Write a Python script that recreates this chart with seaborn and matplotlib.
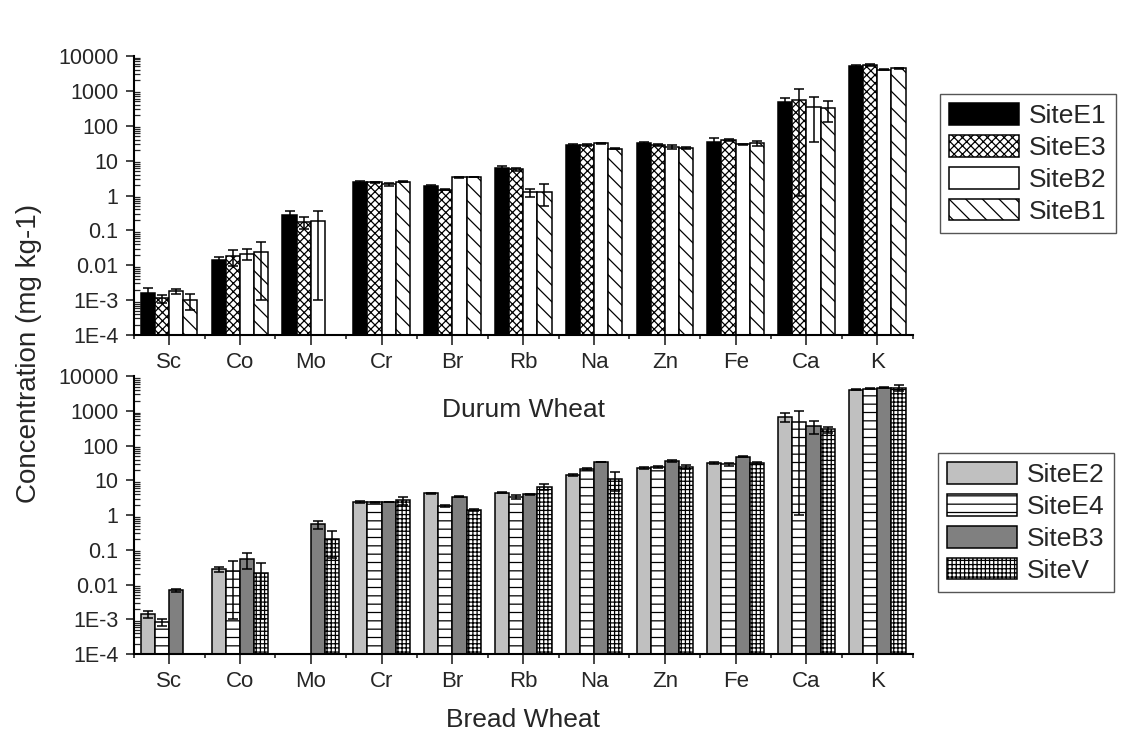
import numpy as np
import pandas as pd
import matplotlib
matplotlib.use("Agg")
import matplotlib.pyplot as plt
import matplotlib.patches as mpatches
from matplotlib.ticker import FixedLocator, FixedFormatter, LogLocator, NullFormatter
import seaborn as sns

# ==========================================
# data (mg kg-1)
# ==========================================
elements = ["Sc", "Co", "Mo", "Cr", "Br", "Rb", "Na", "Zn", "Fe", "Ca", "K"]
nan = np.nan

durum_sites = ["SiteE1", "SiteE3", "SiteB2", "SiteB1"]
durum_E1 = [1.6e-3, 0.0138, 0.275, 2.5, 1.9, 6.3, 28, 31.5, 35, 490, 5200]
durum_E1_err = [0.6e-3, 0.004, 0.09, 0.15, 0.1, 0.8, 2, 2, 9, 130, 500]
durum_E3 = [1.15e-3, 0.0186, 0.178, 2.4, 1.45, 5.6, 28.5, 28, 39, 550, 5500]
durum_E3_err = [0.3e-3, 0.009, 0.07, 0.1, 0.05, 0.6, 1.5, 2, 2, 549, 300]
durum_B2 = [1.78e-3, 0.0214, 0.186, 2.1, 3.3, 1.22, 31.6, 25, 29.5, 355, 4000]
durum_B2_err = [0.3e-3, 0.007, 0.185, 0.25, 0.05, 0.3, 1, 3, 1, 320, 100]
durum_B1 = [1.02e-3, 0.024, nan, 2.5, 3.45, 1.3, 22, 23.4, 31.6, 318, 4500]
durum_B1_err = [0.5e-3, 0.023, nan, 0.05, 0.05, 0.8, 1, 1.5, 6, 190, 150]

bread_sites = ["SiteE2", "SiteE4", "SiteB3", "SiteV"]
bread_E2 = [1.4e-3, 0.0275, nan, 2.4, 4.2, 4.4, 14.8, 23, 32, 680, 4150]
bread_E2_err = [0.3e-3, 0.005, nan, 0.1, 0.1, 0.2, 1, 1.5, 2, 200, 100]
bread_E4 = [0.85e-3, 0.025, nan, 2.35, 1.8, 3.4, 21.4, 24.5, 29, 490, 4400]
bread_E4_err = [0.2e-3, 0.024, nan, 0.05, 0.1, 0.5, 1, 1.5, 3, 489, 100]
bread_B3 = [6.9e-3, 0.054, 0.54, 2.4, 3.4, 4.0, 34, 36, 48, 370, 4700]
bread_B3_err = [0.8e-3, 0.025, 0.15, 0.05, 0.1, 0.1, 1, 1.5, 2, 150, 100]
bread_V = [nan, 0.022, 0.21, 2.7, 1.4, 6.5, 11, 24.5, 31, 295, 4700]
bread_V_err = [nan, 0.021, 0.15, 0.7, 0.1, 1.3, 6, 3, 2, 60, 900]

durum_vals = [durum_E1, durum_E3, durum_B2, durum_B1]
durum_errs = [durum_E1_err, durum_E3_err, durum_B2_err, durum_B1_err]
bread_vals = [bread_E2, bread_E4, bread_B3, bread_V]
bread_errs = [bread_E2_err, bread_E4_err, bread_B3_err, bread_V_err]

# styles
durum_colors = ["black", "white", "white", "white"]
durum_hatches = [None, "xxxx", None, "\\\\"]
bread_colors = ["#c0c0c0", "white", "#808080", "white"]
bread_hatches = [None, "--", None, "++++"]

ytick_vals = [1e-4, 1e-3, 1e-2, 1e-1, 1, 10, 100, 1000, 10000]
ytick_labels = ["1E-4", "1E-3", "0.01", "0.1", "1", "10", "100", "1000", "10000"]

sns.set_style("ticks")
plt.rcParams["font.family"] = ["Liberation Sans", "DejaVu Sans"]
plt.rcParams["hatch.linewidth"] = 0.9


def long_df(sites, vals):
    rows = []
    for s, v in zip(sites, vals):
        for e, x in zip(elements, v):
            rows.append({"element": e, "site": s, "value": x})
    return pd.DataFrame(rows)


def draw_panel(ax, sites, vals, errs, colors, hatches, xlabel, label_y):
    df = long_df(sites, vals)
    sns.barplot(data=df, x="element", y="value", hue="site",
                order=elements, hue_order=sites,
                palette=dict(zip(sites, colors)), edgecolor="black",
                linewidth=1.1, width=0.8, errorbar=None, legend=False,
                saturation=1, ax=ax)
    ax.set_yscale("log")
    for cont, h in zip(ax.containers, hatches):
        for bar in cont:
            if h:
                bar.set_hatch(h)

    # error bars at the dodged positions
    n = len(sites)
    w = 0.8 / n
    for i, (v, e) in enumerate(zip(vals, errs)):
        xpos = np.arange(len(elements)) - 0.4 + w * (i + 0.5)
        ax.errorbar(xpos, v, yerr=e, fmt="none", ecolor="black",
                    elinewidth=1.1, capsize=3.5, capthick=1.1, zorder=5)

    ax.set_ylim(1e-4, 1e4)
    ax.set_xlim(-0.5, len(elements) - 0.5)
    ax.yaxis.set_major_locator(FixedLocator(ytick_vals))
    ax.yaxis.set_major_formatter(FixedFormatter(ytick_labels))
    ax.yaxis.set_minor_locator(LogLocator(base=10, subs=np.arange(2, 10), numticks=20))
    ax.yaxis.set_minor_formatter(NullFormatter())
    ax.xaxis.set_minor_locator(FixedLocator(np.arange(len(elements) + 1) - 0.5))

    ax.tick_params(axis="y", which="major", direction="out", length=6, width=1.2,
                   labelsize=15.5, pad=5)
    ax.tick_params(axis="y", which="minor", direction="in", length=4, width=0.9)
    ax.tick_params(axis="x", which="major", direction="out", length=7, width=1.2,
                   labelsize=16, pad=5)
    ax.tick_params(axis="x", which="minor", direction="out", length=3, width=1.2)

    sns.despine(ax=ax)
    for sp in ["left", "bottom"]:
        ax.spines[sp].set_linewidth(1.5)
        ax.spines[sp].set_color("black")
    ax.set_ylabel("")
    ax.set_xlabel(xlabel, fontsize=19)
    ax.xaxis.set_label_coords(0.5, label_y)


fig = plt.figure(figsize=(11.24, 7.31), dpi=100)
fig.patch.set_facecolor("white")
ax1 = fig.add_axes([0.119, 0.5417, 0.693, 0.3817])
ax2 = fig.add_axes([0.119, 0.1053, 0.693, 0.380])
# the lower panel must not hide the "Durum Wheat" label of the upper one
ax2.set_facecolor("none")

draw_panel(ax1, durum_sites, durum_vals, durum_errs, durum_colors, durum_hatches,
           "Durum Wheat", -0.225)
draw_panel(ax2, bread_sites, bread_vals, bread_errs, bread_colors, bread_hatches,
           "Bread Wheat", -0.196)
ax1.set_zorder(3)
ax1.patch.set_alpha(0)

fig.text(0.026, 1 - 353 / 731, "Concentration (mg kg-1)", rotation=90,
         ha="center", va="center", fontsize=20)

# legends
def make_legend(sites, colors, hatches, anchor):
    handles = [mpatches.Patch(facecolor=c, edgecolor="black", hatch=h, label=s,
                              linewidth=1.1)
               for s, c, h in zip(sites, colors, hatches)]
    leg = fig.legend(handles=handles, loc="upper left", bbox_to_anchor=anchor,
                     fontsize=19, handlelength=2.65, handleheight=0.87,
                     labelspacing=0.27, handletextpad=0.38, borderpad=0.35,
                     fancybox=False, framealpha=1, borderaxespad=0)
    leg.get_frame().set_edgecolor("#555555")
    leg.get_frame().set_linewidth(1.0)
    return leg

make_legend(durum_sites, durum_colors, durum_hatches, (940 / 1124, 1 - 94 / 731))
make_legend(bread_sites, bread_colors, bread_hatches, (938 / 1124, 1 - 453 / 731))

plt.savefig("out.png", dpi=100)
